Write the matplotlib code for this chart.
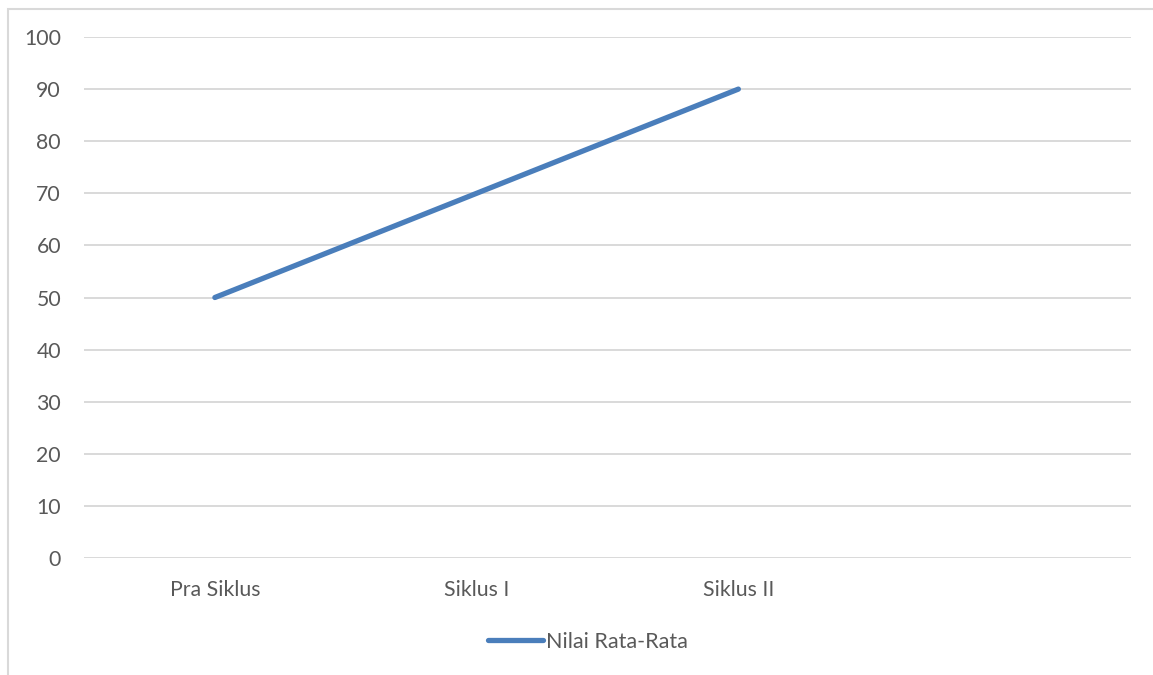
import matplotlib
matplotlib.use("Agg")
import matplotlib.pyplot as plt
from matplotlib.patches import Rectangle

# Data
categories = ["Pra Siklus", "Siklus I", "Siklus II", ""]
series_name = "Nilai Rata-Rata"
values = [50, 70, 90]
y_ticks = [0, 10, 20, 30, 40, 50, 60, 70, 80, 90, 100]

W, H = 1153, 675
fig = plt.figure(figsize=(W / 100, H / 100), dpi=100)
plt.rcParams["font.family"] = ["Lato", "DejaVu Sans"]

grid_color = "#d9d9d9"
text_color = "#595959"
line_color = "#4a7ebb"

# Chart-area frame (runs off the right and bottom edges)
fig.patches.append(Rectangle((8 / W, -0.05), 1.2, 1 - 9 / H + 0.05,
                             transform=fig.transFigure, fill=False,
                             edgecolor=grid_color, linewidth=1.5))

ax = fig.add_axes([84 / W, (H - 558) / H, (1131 - 84) / W, (558 - 37) / H])
x = list(range(len(categories)))
ax.set_xlim(-0.5, len(categories) - 0.5)
ax.set_ylim(0, 100)
ax.set_yticks(y_ticks)
ax.set_xticks(x)
ax.set_xticklabels(categories)

for yv in y_ticks:
    ax.axhline(yv, color=grid_color, linewidth=1.4, zorder=1)

ax.plot(x[:len(values)], values, color=line_color, linewidth=3.8,
        solid_capstyle="round", solid_joinstyle="round", zorder=3,
        label=series_name)

for s in ax.spines.values():
    s.set_visible(False)
ax.tick_params(axis="both", length=0, labelsize=15.3, colors=text_color)
ax.tick_params(axis="y", pad=16.5)
ax.tick_params(axis="x", pad=16)

leg = ax.legend(loc="center", bbox_to_anchor=(0.481, (H - 642 - (H - 558)) / (558 - 37)),
                frameon=False, fontsize=15.5, handlelength=2.55, handletextpad=0.15,
                labelcolor=text_color)

fig.savefig("out.png", dpi=100)
